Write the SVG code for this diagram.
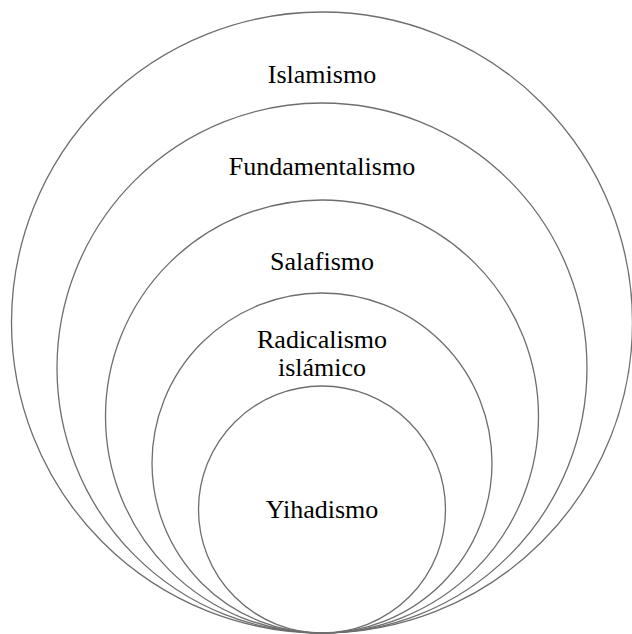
<svg xmlns="http://www.w3.org/2000/svg" width="632" height="634" viewBox="0 0 632 634">
<style>
.c{fill:none;stroke:#6e6e6e;stroke-width:1.3}
.t{font-family:"Liberation Serif","Times New Roman",serif;font-size:26px;fill:#000;text-anchor:middle}
</style>
<rect width="632" height="634" fill="#fff"/>
<g id="n1"><circle class="c" cx="322" cy="322.5" r="310.5"/><text class="t" x="322" y="83">Islamismo</text></g>
<g id="n2"><circle class="c" cx="322" cy="368" r="265"/><text class="t" x="322" y="175">Fundamentalismo</text></g>
<g id="n3"><circle class="c" cx="322" cy="416.5" r="216.5"/><text class="t" x="322" y="270">Salafismo</text></g>
<g id="n4"><circle class="c" cx="322" cy="463" r="170"/><text class="t" x="322" y="348">Radicalismo</text><text class="t" x="322" y="376">islámico</text></g>
<g id="n5"><circle class="c" cx="322" cy="509.5" r="123.5"/><text class="t" x="322" y="518">Yihadismo</text></g>
<g id="connectors"/>
</svg>
